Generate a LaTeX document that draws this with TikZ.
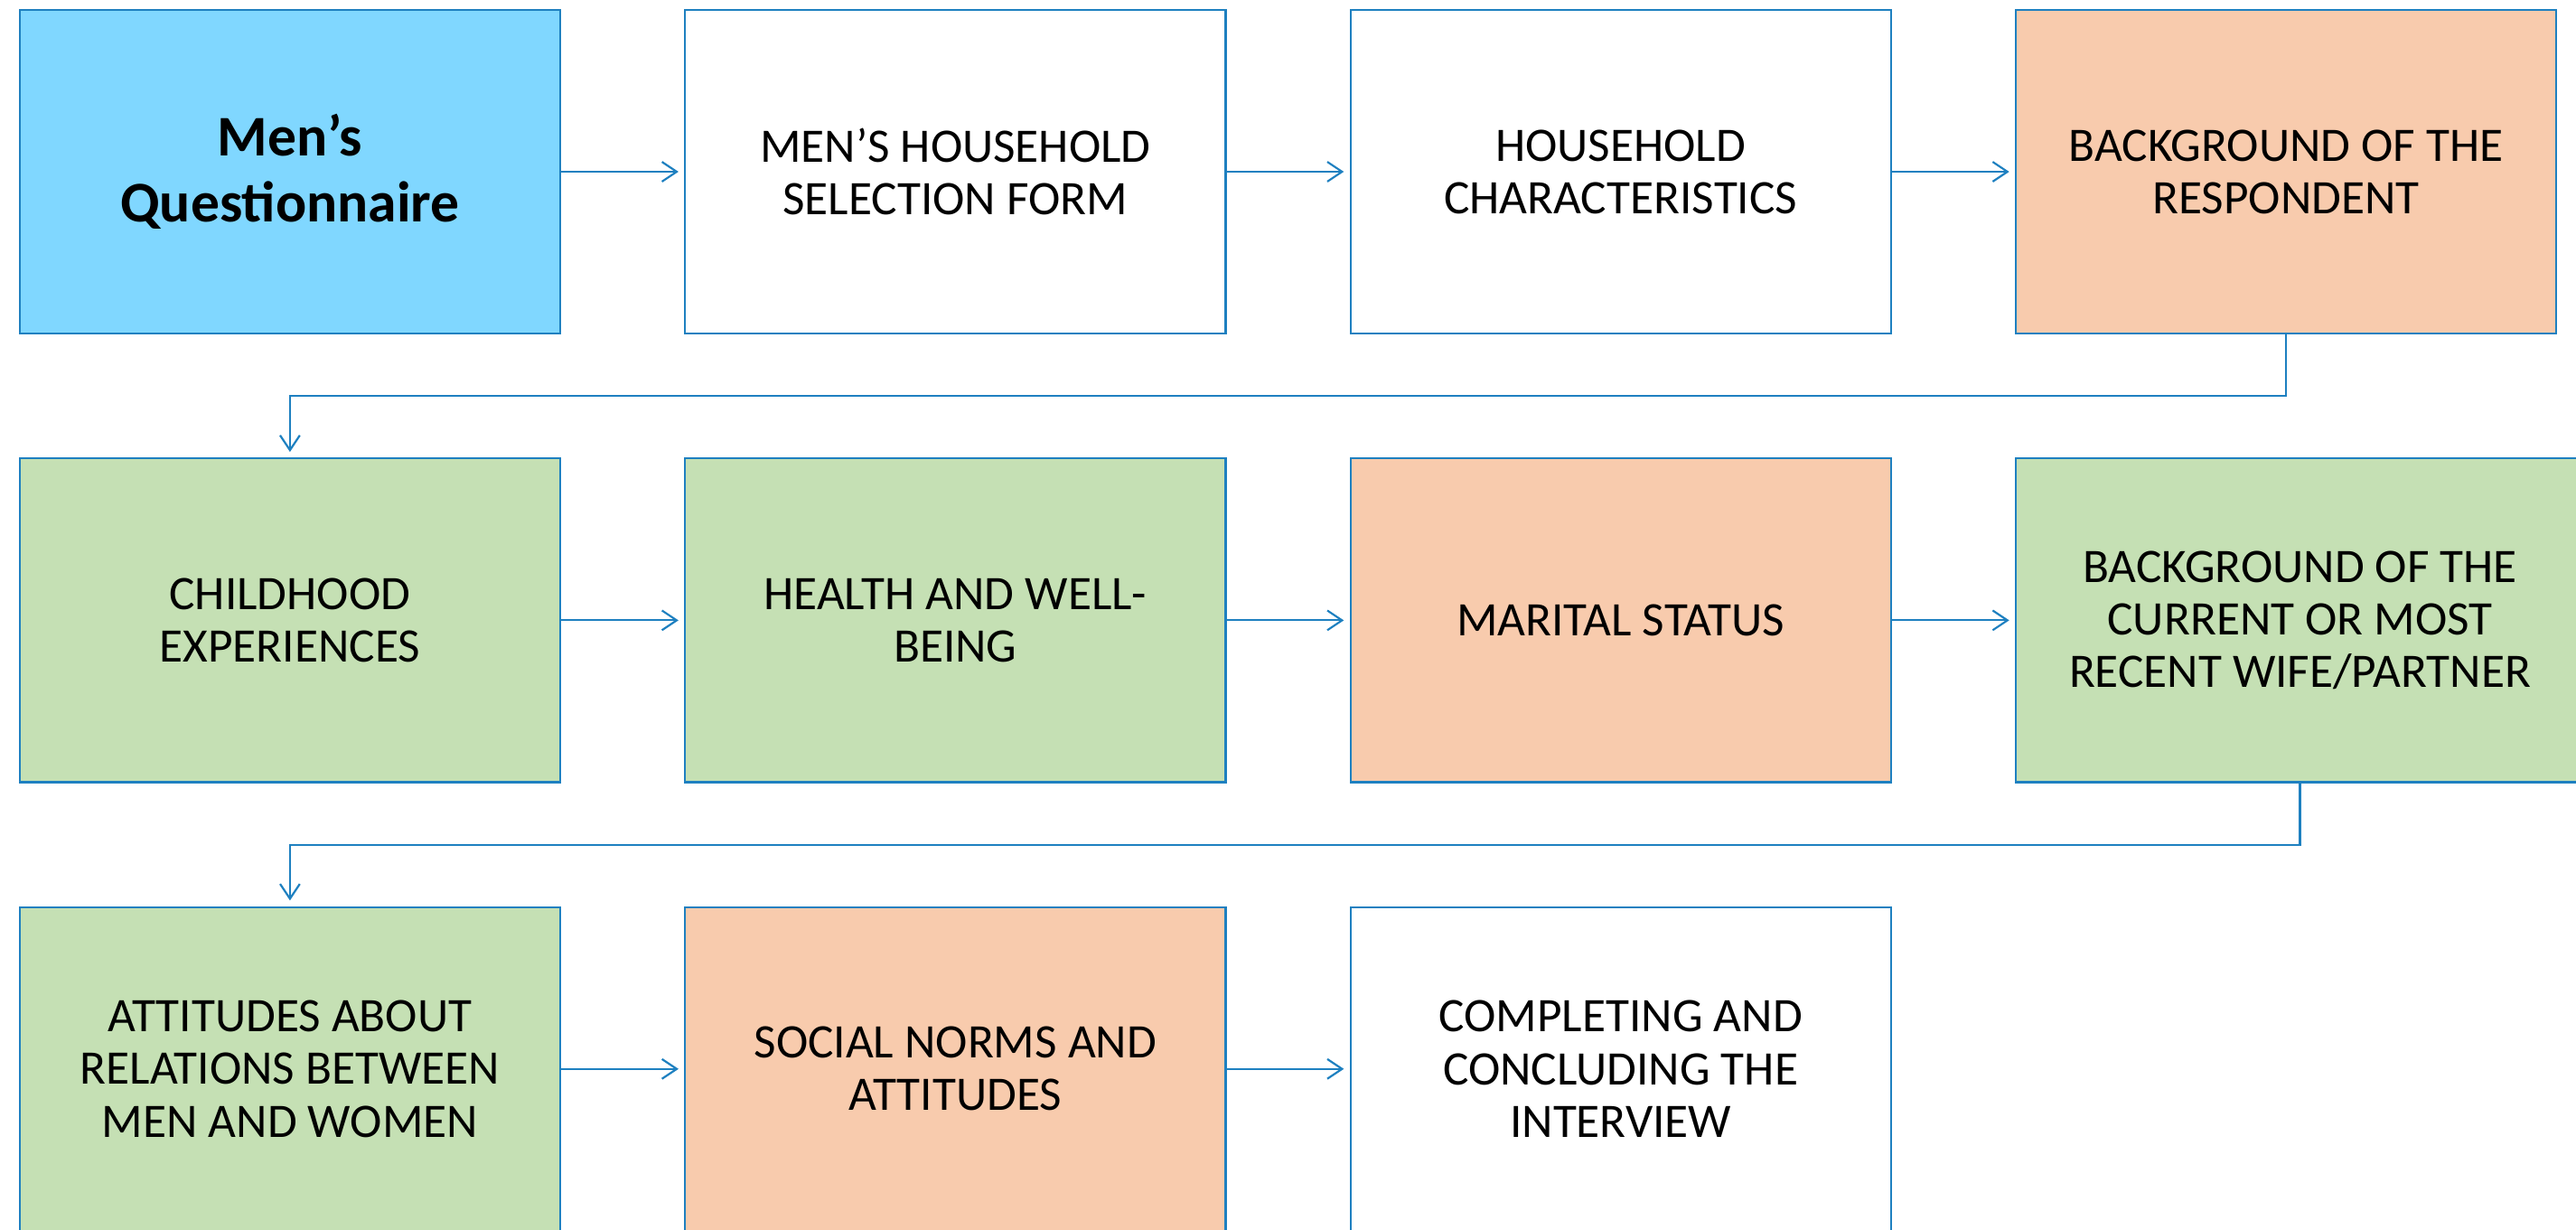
\documentclass[tikz,border=0pt]{standalone}
\usepackage{fontspec}
\setmainfont{Carlito}
\usetikzlibrary{arrows.meta,positioning}
\definecolor{edgeblue}{RGB}{30,128,192}
\definecolor{titleblue}{RGB}{128,215,255}
\definecolor{sectgreen}{RGB}{197,224,180}
\definecolor{sectpeach}{RGB}{248,203,173}

\begin{document}
\begin{tikzpicture}[x=1pt,y=1pt,->,>={Straight Barb[length=9pt,width=12pt]},shorten >=4pt,
                    node distance=76pt and 76pt,line width=1.2pt,color=edgeblue,
                    main node/.style={rectangle,draw=edgeblue,fill=white,text=black,minimum width=329pt,
                    minimum height=197pt,inner sep=0pt,outer sep=0pt,align=center,
                    font=\fontsize{29.3}{32}\selectfont}]
  \useasboundingbox (0,0) rectangle (1568,-748);

  \node[main node,fill=titleblue,font=\bfseries\fontsize{35}{40}\selectfont] (mq) at (176.5,-104.5) {Men’s\\Questionnaire};
  \node[main node] (hsf) [right=of mq] {MEN’S HOUSEHOLD\\SELECTION FORM};
  \node[main node] (hc) [right=of hsf] {HOUSEHOLD\\CHARACTERISTICS};
  \node[main node,fill=sectpeach] (br) [right=of hc] {BACKGROUND OF THE\\RESPONDENT};
  \node[main node,fill=sectgreen] (ce) [below=of mq] {CHILDHOOD\\EXPERIENCES};
  \node[main node,fill=sectgreen] (hw) [right=of ce] {HEALTH AND WELL-\\BEING};
  \node[main node,fill=sectpeach] (ms) [right=of hw] {MARITAL STATUS};
  \node[main node,fill=sectgreen,minimum width=346pt] (bp) [right=of ms] {BACKGROUND OF THE\\CURRENT OR MOST\\RECENT WIFE/PARTNER};
  \node[main node,fill=sectgreen] (ar) [below=of ce] {ATTITUDES ABOUT\\RELATIONS BETWEEN\\MEN AND WOMEN};
  \node[main node,fill=sectpeach] (sn) [right=of ar] {SOCIAL NORMS AND\\ATTITUDES};
  \node[main node] (cc) [right=of sn] {COMPLETING AND\\CONCLUDING THE\\INTERVIEW};

  \path
    (mq) edge (hsf)
    (hsf) edge (hc)
    (hc) edge (br)
    (ce) edge (hw)
    (hw) edge (ms)
    (ms) edge (bp)
    (ar) edge (sn)
    (sn) edge (cc);
  \draw (br.south) -- ++(0,-38) -| (ce.north);
  \draw (bp.south) -- ++(0,-38) -| (ar.north);
\end{tikzpicture}
\end{document}
